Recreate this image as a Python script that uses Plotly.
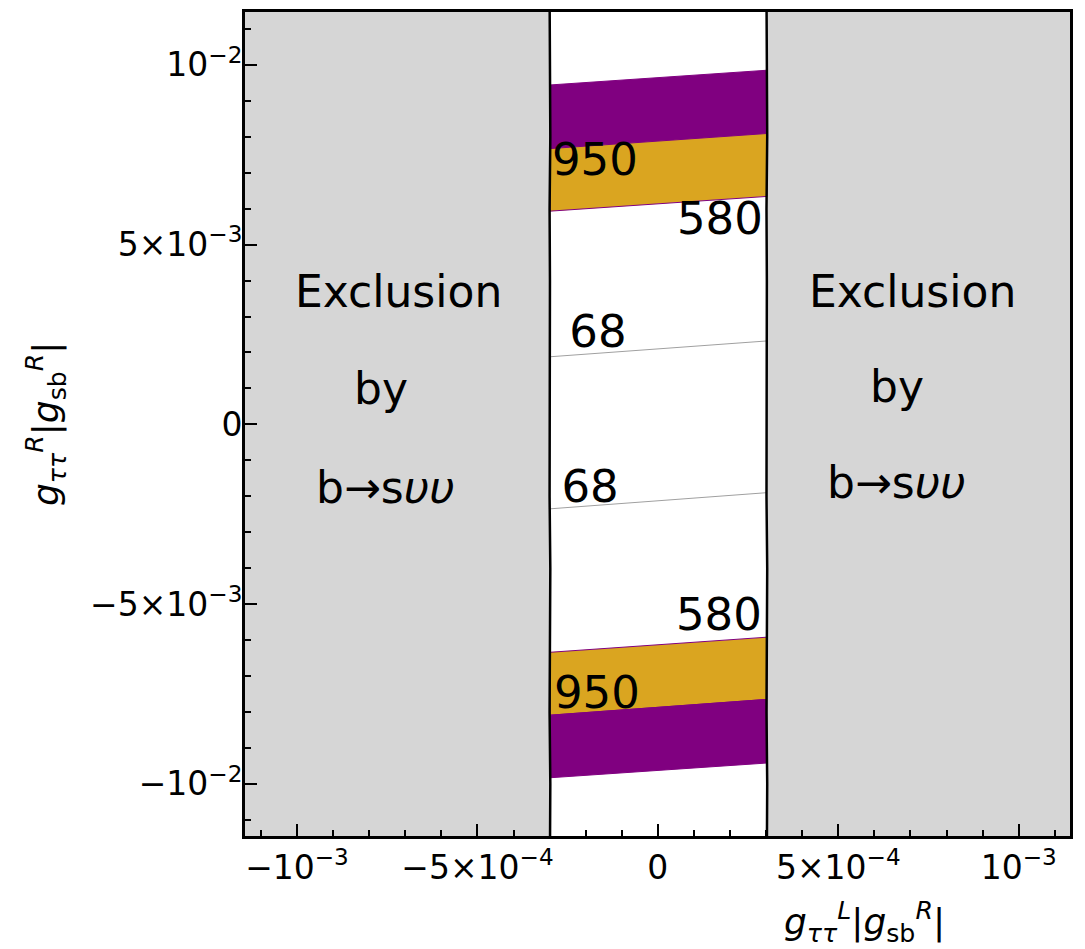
import numpy as np
import plotly.graph_objects as go

# ---- data -------------------------------------------------------------
# x/y extent of the plotting window
x_range = [-1.144e-3, 1.142e-3]
y_range = [-1.145e-2, 1.147e-2]

# b -> s nu nu exclusion boundaries (contour, slightly wavy)
boundary_y = [-1.2e-2, -1.0e-2, -8.0e-3, -6.0e-3, -4.0e-3, -2.0e-3, 0.0,
              2.0e-3, 4.0e-3, 6.0e-3, 8.0e-3, 1.0e-2, 1.2e-2]
left_boundary_x = [-2.99e-4, -2.98e-4, -3.00e-4, -2.99e-4, -2.98e-4, -3.00e-4, -2.99e-4,
                   -2.98e-4, -2.99e-4, -3.00e-4, -2.98e-4, -2.99e-4, -3.00e-4]
right_boundary_x = [3.02e-4, 3.03e-4, 3.01e-4, 3.02e-4, 3.03e-4, 3.01e-4, 3.02e-4,
                    3.03e-4, 3.02e-4, 3.01e-4, 3.03e-4, 3.02e-4, 3.01e-4]

# band end points (at the two edges of the allowed strip)
band_x = [-2.99e-4, 3.02e-4]
upper_purple_top = [9.44e-3, 9.85e-3]
upper_950 = [7.67e-3, 8.09e-3]
upper_580 = [5.93e-3, 6.34e-3]
lower_580 = [-6.34e-3, -5.92e-3]
lower_950 = [-8.09e-3, -7.65e-3]
lower_purple_bottom = [-9.83e-3, -9.42e-3]
upper_68 = [1.88e-3, 2.32e-3]
lower_68 = [-2.35e-3, -1.90e-3]

# contour labels
contour_labels = ["950", "580", "68", "68", "580", "950"]
contour_label_x = [-1.745e-4, 1.72e-4, -1.66e-4, -1.88e-4, 1.69e-4, -1.69e-4]
contour_label_y = [7.26e-3, 5.60e-3, 2.47e-3, -1.86e-3, -5.40e-3, -7.59e-3]

# exclusion region text
region_text = ["Exclusion", "by", "b→s<i>υυ</i>"] * 2
region_text_x = [-7.20e-4, -7.67e-4, -7.56e-4, 7.06e-4, 6.62e-4, 6.62e-4]
region_text_y = [3.70e-3, 1.00e-3, -1.75e-3, 3.70e-3, 1.05e-3, -1.62e-3]

# tick labels
x_tickvals = [-1e-3, -5e-4, 0, 5e-4, 1e-3]
x_ticktext = ["−10<sup>−3</sup>", "−5×10<sup>−4</sup>", "0", "5×10<sup>−4</sup>", "10<sup>−3</sup>"]
y_tickvals = [-1e-2, -5e-3, 0, 5e-3, 1e-2]
y_ticktext = ["−10<sup>−2</sup>", "−5×10<sup>−3</sup>", "0", "5×10<sup>−3</sup>", "10<sup>−2</sup>"]

# ---- styling ------------------------------------------------------------
FONT = "DejaVu Sans"
GRAY = "#d6d6d6"
PURPLE = "#800080"
ORANGE = "#daa520"

fig = go.Figure()

# grey excluded regions
far_left, far_right = -2e-3, 2e-3
fig.add_trace(go.Scatter(
    x=[far_left] + left_boundary_x + [far_left],
    y=[boundary_y[0]] + boundary_y + [boundary_y[-1]],
    fill="toself", fillcolor=GRAY, line=dict(width=0), mode="lines",
    hoverinfo="skip", showlegend=False))
fig.add_trace(go.Scatter(
    x=[far_right] + right_boundary_x + [far_right],
    y=[boundary_y[0]] + boundary_y + [boundary_y[-1]],
    fill="toself", fillcolor=GRAY, line=dict(width=0), mode="lines",
    hoverinfo="skip", showlegend=False))


def band(lo, hi, color, edge):
    fig.add_trace(go.Scatter(
        x=band_x + band_x[::-1] + [band_x[0]],
        y=lo + hi[::-1] + [lo[0]],
        fill="toself", fillcolor=color, mode="lines",
        line=dict(color=edge, width=1), hoverinfo="skip", showlegend=False))


band(upper_950, upper_purple_top, PURPLE, PURPLE)
band(upper_580, upper_950, ORANGE, PURPLE)
band(lower_950, lower_580, ORANGE, PURPLE)
band(lower_purple_bottom, lower_950, PURPLE, PURPLE)

for yy in (upper_68, lower_68):
    fig.add_trace(go.Scatter(x=band_x, y=yy, mode="lines",
                             line=dict(color="#a0a0a0", width=1),
                             hoverinfo="skip", showlegend=False))

# boundary contours
for bx in (left_boundary_x, right_boundary_x):
    fig.add_trace(go.Scatter(x=bx, y=boundary_y, mode="lines",
                             line=dict(color="black", width=2.5),
                             hoverinfo="skip", showlegend=False))

# contour labels
fig.add_trace(go.Scatter(x=contour_label_x, y=contour_label_y, mode="text",
                         text=contour_labels,
                         textfont=dict(family=FONT, size=45, color="black"),
                         hoverinfo="skip", showlegend=False))

# region annotations
for t, xx, yy in zip(region_text, region_text_x, region_text_y):
    fig.add_annotation(x=xx, y=yy, text=t, showarrow=False,
                       font=dict(family=FONT, size=44, color="black"))

# axis titles
fig.add_annotation(xref="paper", yref="paper", x=(864 - 245) / 825, y=-(922 - 836) / 827,
                   xanchor="center", yanchor="middle",
                   text="<i>g</i><sub><i>ττ</i></sub><sup><i>L</i></sup>|<i>g</i><sub>sb</sub><sup><i>R</i></sup>|",
                   showarrow=False, font=dict(family=FONT, size=36, color="black"))
fig.add_annotation(xref="paper", yref="paper", x=-(245 - 46) / 825, y=0.5, textangle=-90,
                   xanchor="center", yanchor="middle",
                   text="<i>g</i><sub><i>ττ</i></sub><sup><i>R</i></sup>|<i>g</i><sub>sb</sub><sup><i>R</i></sup>|",
                   showarrow=False, font=dict(family=FONT, size=36, color="black"))

x_minor = [v for v in np.round(np.arange(-11, 12) * 1e-4, 6) if round(v / 5e-4, 6) % 1 != 0]
y_minor = [v for v in np.round(np.arange(-11, 12) * 1e-3, 5) if round(v / 5e-3, 6) % 1 != 0]

axis_common = dict(showgrid=False, zeroline=False, showline=True, mirror=True,
                   linecolor="black", linewidth=3, ticks="inside", ticklen=12,
                   tickwidth=2, tickcolor="black",
                   tickfont=dict(family=FONT, size=33, color="black"))

fig.update_layout(
    width=1085, height=949,
    margin=dict(l=245, r=15, t=9, b=113),
    paper_bgcolor="white", plot_bgcolor="white",
    xaxis=dict(range=x_range, tickmode="array", tickvals=x_tickvals, ticktext=x_ticktext,
               minor=dict(ticks="inside", ticklen=6, tickwidth=2, tickcolor="black",
                          tickmode="array", tickvals=x_minor),
               **axis_common),
    yaxis=dict(range=y_range, tickmode="array", tickvals=y_tickvals, ticktext=y_ticktext,
               ticklabelstandoff=-7,
               minor=dict(ticks="inside", ticklen=6, tickwidth=2, tickcolor="black",
                          tickmode="array", tickvals=y_minor),
               **axis_common),
)

fig.write_html("out.html")
